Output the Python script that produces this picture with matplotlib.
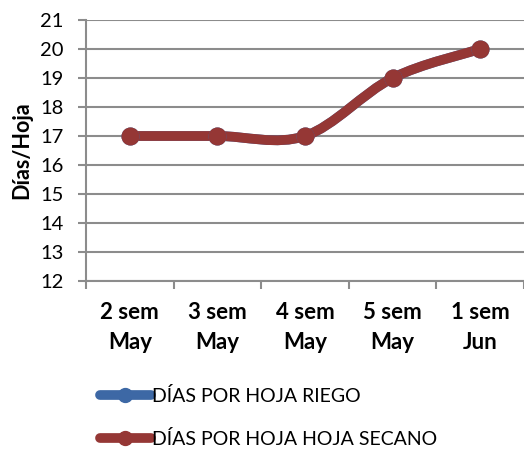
import matplotlib.pyplot as plt
from matplotlib.path import Path
from matplotlib.patches import PathPatch
from matplotlib.lines import Line2D

plt.rcParams['font.family'] = ['Lato', 'DejaVu Sans']

# data
categories = ['2 sem\nMay', '3 sem\nMay', '4 sem\nMay', '5 sem\nMay', '1 sem\nJun']
riego = [17, 17, 17, 19, 20]
secano = [17, 17, 17, 19, 20]
yticks = list(range(12, 22))

red = '#953735'
blue = '#3D68A5'
grid_c = '#8C8C8C'


def smooth_path(xs, ys):
    # excel-like smoothed line: bezier segments with catmull-rom control points
    pts = list(zip(xs, ys))
    n = len(pts)
    verts = [pts[0]]
    codes = [Path.MOVETO]
    for i in range(n - 1):
        p0 = pts[i - 1] if i > 0 else pts[i]
        p1 = pts[i]
        p2 = pts[i + 1]
        p3 = pts[i + 2] if i + 2 < n else pts[i + 1]
        c1 = (p1[0] + (p2[0] - p0[0]) / 6, p1[1] + (p2[1] - p0[1]) / 6)
        c2 = (p2[0] - (p3[0] - p1[0]) / 6, p2[1] - (p3[1] - p1[1]) / 6)
        verts += [c1, c2, p2]
        codes += [Path.CURVE4] * 3
    return Path(verts, codes)


fig = plt.figure(figsize=(5.24, 4.51), dpi=100)
ax = fig.add_axes([86 / 524, 1 - 281 / 451, 1 - 86 / 524, (281 - 20) / 451])

x = list(range(len(categories)))
for vals, col in [(riego, blue), (secano, red)]:
    ax.add_patch(PathPatch(smooth_path(x, vals), fill=False, edgecolor=col,
                           lw=7, capstyle='round', joinstyle='round', zorder=3))
    ax.plot(x, vals, 'o', color=col, ms=12, zorder=4)

ax.set_xlim(-0.5, 4.5)
ax.set_ylim(12, 21)
ax.set_yticks(yticks)
ax.set_yticklabels([str(v) for v in yticks], fontsize=14.5)
ax.grid(axis='y', color=grid_c, lw=1.5)
ax.set_axisbelow(True)

ax.set_xticks(x)
ax.set_xticklabels(categories, fontsize=16, fontweight='bold', linespacing=1.55)
ax.set_xticks([i - 0.5 for i in range(len(categories) + 1)], minor=True)
ax.tick_params(axis='x', which='major', length=0, pad=15)
ax.tick_params(axis='x', which='minor', length=6, width=1.5, color=grid_c)
ax.tick_params(axis='y', length=6, width=1.5, color=grid_c, pad=10)

for s in ['top', 'right']:
    ax.spines[s].set_visible(False)
for s in ['left', 'bottom']:
    ax.spines[s].set_color(grid_c)
    ax.spines[s].set_linewidth(1.5)

ax.set_ylabel('Días/Hoja', fontsize=15.5, fontweight='bold', labelpad=6)

handles = [Line2D([], [], color=blue, lw=7, marker='o', ms=10, solid_capstyle='round'),
           Line2D([], [], color=red, lw=7, marker='o', ms=10, solid_capstyle='round')]
fig.legend(handles, ['DÍAS POR HOJA RIEGO', 'DÍAS POR HOJA HOJA SECANO'],
           loc='upper left', bbox_to_anchor=(100 / 524, 1 - 387 / 451),
           frameon=False, fontsize=14, handlelength=2.6, handletextpad=0.1,
           labelspacing=1.3, borderpad=0, borderaxespad=0)

fig.savefig('out.png', dpi=100)
